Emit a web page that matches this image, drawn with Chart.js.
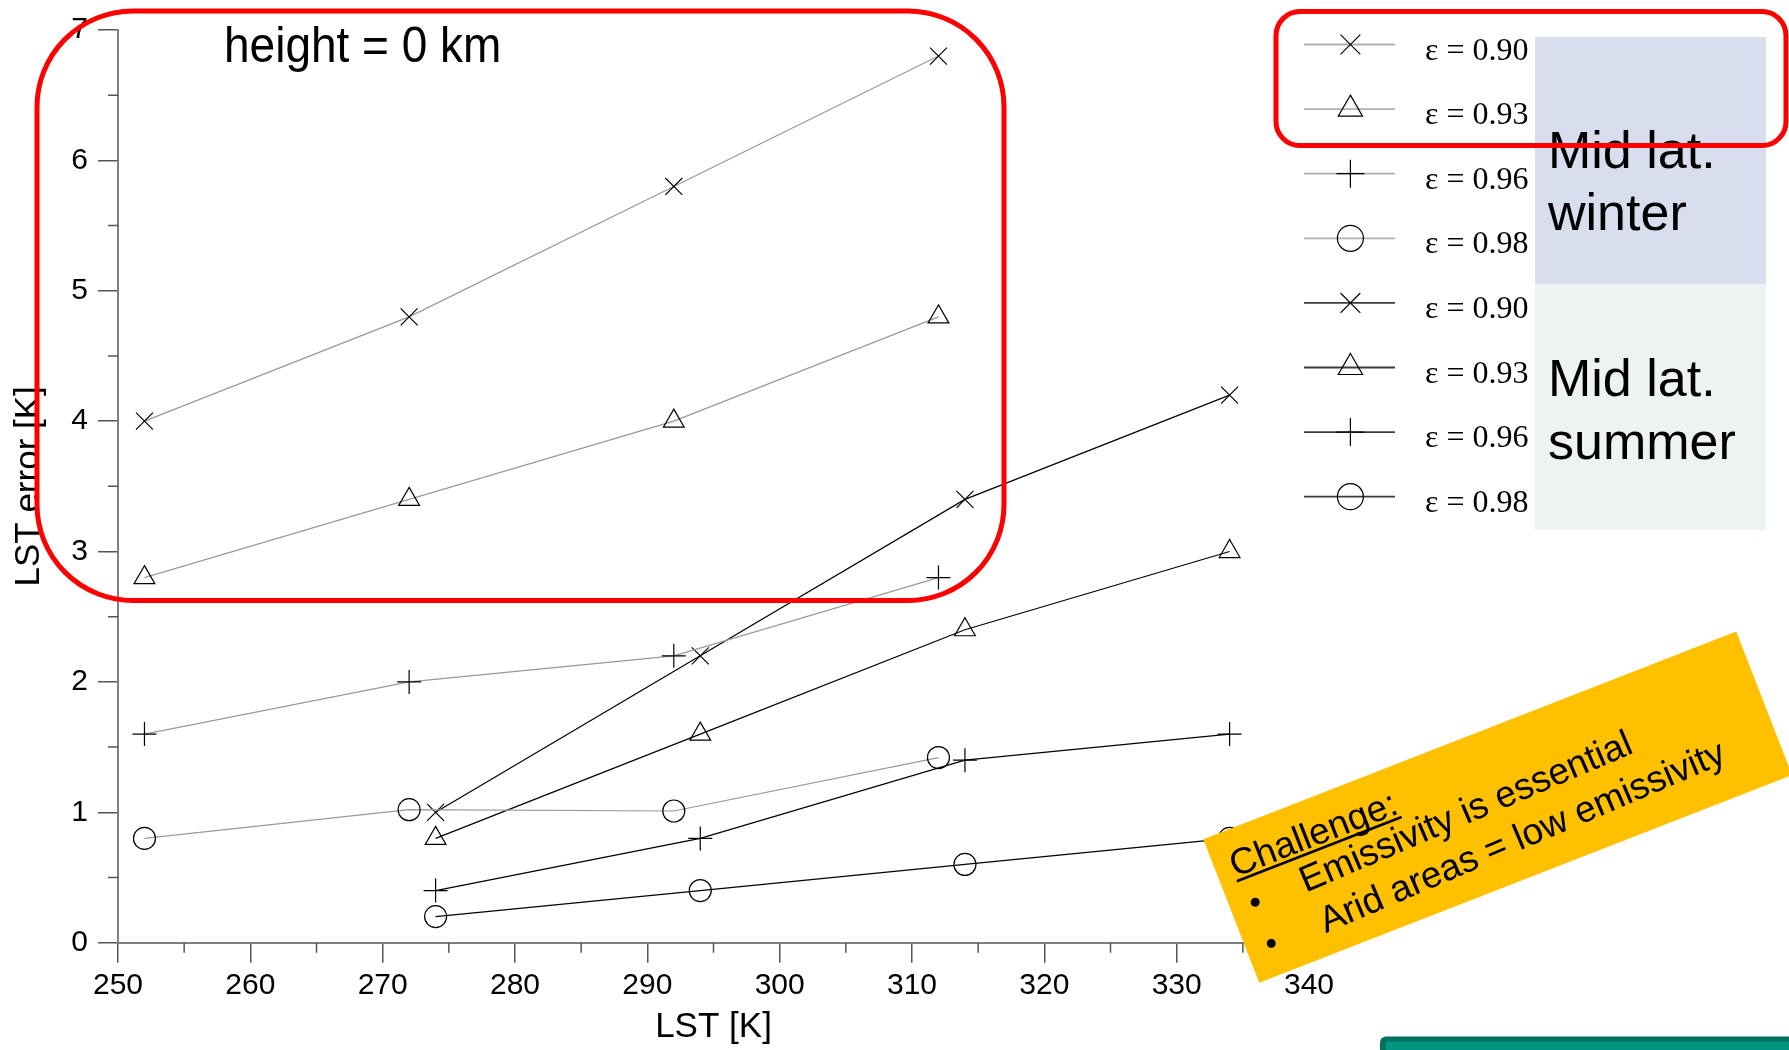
<!DOCTYPE html>
<html>
<head>
<meta charset="utf-8">
<script src="https://cdn.jsdelivr.net/npm/chart.js@4.4.1/dist/chart.umd.min.js"></script>
<style>
    html, body { margin: 0; padding: 0; background: #ffffff; }
    #wrap { width: 1789px; height: 1050px; position: relative; }
</style>
</head>
<body>
<div id="wrap"><canvas id="lstChart" width="1789" height="1050"></canvas></div>
<script>
// LST error vs LST, height = 0 km
var winterLST = [252, 272, 292, 312];
var summerLST = [274, 294, 314, 334];

var winterErr090 = [4.0, 4.8, 5.8, 6.8];
var winterErr093 = [2.8, 3.4, 4.0, 4.8];
var winterErr096 = [1.6, 2.0, 2.2, 2.8];
var winterErr098 = [0.8, 1.02, 1.01, 1.42];

var summerErr090 = [1.0, 2.2, 3.4, 4.2];
var summerErr093 = [0.8, 1.6, 2.4, 3.0];
var summerErr096 = [0.4, 0.8, 1.4, 1.6];
var summerErr098 = [0.2, 0.4, 0.6, 0.8];

var emissivityLabels = ['ε = 0.90', 'ε = 0.93', 'ε = 0.96', 'ε = 0.98'];
var xMin = 250, xMax = 340;
var yMin = 0, yMax = 7;

var SANS = '"Liberation Sans", Arial, sans-serif';
var SERIF = '"Liberation Serif", "Times New Roman", serif';

var markerStyles = ['crossRot', 'triangle', 'cross', 'circle'];
var markerRadius = [12, 12, 12, 11];
var legendRadius = [14, 14, 14, 13];

function makeSet(i, xs, ys, color, legendColor) {
    return {
        label: emissivityLabels[i],
        data: xs.map(function (x, k) { return { x: x, y: ys[k] }; }),
        borderColor: color,
        borderWidth: 1.2,
        pointStyle: markerStyles[i],
        pointRadius: markerRadius[i],
        pointHoverRadius: markerRadius[i],
        pointBorderColor: '#000000',
        pointBackgroundColor: 'rgba(0,0,0,0)',
        pointBorderWidth: 1.2,
        legendRadius: legendRadius[i],
        legendColor: legendColor,
        tension: 0,
        fill: false,
        clip: false
    };
}

var winterColor = '#999999';
var summerColor = '#000000';

function roundRect(ctx, x, y, w, h, r) {
    ctx.beginPath();
    ctx.moveTo(x + r, y);
    ctx.arcTo(x + w, y, x + w, y + h, r);
    ctx.arcTo(x + w, y + h, x, y + h, r);
    ctx.arcTo(x, y + h, x, y, r);
    ctx.arcTo(x, y, x + w, y, r);
    ctx.closePath();
}

var overlay = {
    id: 'overlay',
    afterDraw: function (chart) {
        var ctx = chart.ctx;
        var xs = chart.scales.x, ys = chart.scales.y;

        // minor ticks (shorter)
        ctx.save();
        ctx.strokeStyle = '#555555';
        ctx.lineWidth = 1.5;
        ctx.beginPath();
        xs.ticks.forEach(function (t) {
            if (t.value % 10 !== 0) {
                var px = xs.getPixelForValue(t.value);
                ctx.moveTo(px, xs.top);
                ctx.lineTo(px, xs.top + 10);
            }
        });
        ys.ticks.forEach(function (t) {
            if (t.value % 1 !== 0) {
                var py = ys.getPixelForValue(t.value);
                ctx.moveTo(ys.right - 10, py);
                ctx.lineTo(ys.right, py);
            }
        });
        ctx.stroke();
        ctx.restore();

        // plot title
        ctx.save();
        ctx.fillStyle = '#000000';
        ctx.font = '50px ' + SANS;
        ctx.textBaseline = 'alphabetic';
        ctx.translate(224, 61.7);
        ctx.scale(0.92, 1);
        ctx.fillText('height = 0 km', 0, 0);
        ctx.restore();

        // legend backgrounds
        ctx.save();
        ctx.fillStyle = '#d9deef';
        ctx.fillRect(1535, 37, 231, 247);
        ctx.fillStyle = '#edf2f2';
        ctx.fillRect(1535, 284, 231, 246);
        ctx.fillStyle = '#000000';
        ctx.font = '52px ' + SANS;
        ctx.fillText('Mid lat.', 1548, 167.7);
        ctx.fillText('winter', 1548, 229.7);
        ctx.fillText('Mid lat.', 1548, 395.7);
        ctx.fillText('summer', 1548, 458.8);
        ctx.restore();

        // legend entries from the datasets
        ctx.save();
        chart.data.datasets.forEach(function (ds, i) {
            var ry = 44.5 + 64.6 * i;
            ctx.strokeStyle = ds.legendColor;
            ctx.lineWidth = 1.8;
            ctx.beginPath();
            ctx.moveTo(1304, ry);
            ctx.lineTo(1395, ry);
            ctx.stroke();
            ctx.strokeStyle = '#000000';
            ctx.fillStyle = 'rgba(0,0,0,0)';
            ctx.lineWidth = 1.2;
            Chart.helpers.drawPoint(ctx, {
                pointStyle: ds.pointStyle, radius: ds.legendRadius, rotation: 0, borderWidth: 1.2
            }, 1350.4, ry);
            ctx.fillStyle = '#000000';
            ctx.font = '32px ' + SERIF;
            ctx.textBaseline = 'alphabetic';
            ctx.fillText(ds.label, 1425, ry + 15.1);
        });
        ctx.restore();

        // red highlight frames
        ctx.save();
        ctx.strokeStyle = '#ff0000';
        ctx.lineWidth = 5;
        roundRect(ctx, 37, 11, 967, 589.5, 96);
        ctx.stroke();
        roundRect(ctx, 1276, 11.6, 510, 134, 24);
        ctx.stroke();
        ctx.restore();

        // yellow note
        ctx.save();
        ctx.translate(1203.3, 839.3);
        ctx.rotate(-21.3 * Math.PI / 180);
        ctx.fillStyle = '#ffc000';
        ctx.fillRect(0, 0, 572, 154);
        ctx.fillStyle = '#000000';
        ctx.font = '37px ' + SANS;
        ctx.textBaseline = 'alphabetic';
        ctx.fillText('Challenge:', 16, 47);
        var cw = ctx.measureText('Challenge:').width;
        ctx.fillRect(16, 50, cw, 2.5);
        ctx.beginPath();
        ctx.arc(25.5, 77.5, 4.5, 0, Math.PI * 2);
        ctx.arc(25.5, 121.6, 4.5, 0, Math.PI * 2);
        ctx.fill();
        ctx.save();
        ctx.translate(76, 87);
        ctx.rotate(-1.8 * Math.PI / 180);
        ctx.fillText('Emissivity is essential', 0, 0);
        ctx.restore();
        ctx.save();
        ctx.translate(80, 132);
        ctx.rotate(-1.8 * Math.PI / 180);
        ctx.fillText('Arid areas = low emissivity', 0, 0);
        ctx.restore();
        ctx.restore();

        // teal box at bottom right
        ctx.save();
        ctx.fillStyle = '#00705f';
        roundRect(ctx, 1380, 1036.5, 440, 40, 6);
        ctx.fill();
        ctx.fillStyle = '#009682';
        ctx.fillRect(1386, 1041.5, 420, 30);
        ctx.restore();
    }
};

document.addEventListener('DOMContentLoaded', function () {
    Chart.defaults.font.family = SANS;
    Chart.defaults.color = '#000000';

    var ctxLst = document.getElementById('lstChart').getContext('2d');
    var lstChart = new Chart(ctxLst, {
        type: 'line',
        data: {
            datasets: [
                makeSet(0, winterLST, winterErr090, winterColor, '#b0b0b0'),
                makeSet(1, winterLST, winterErr093, winterColor, '#b0b0b0'),
                makeSet(2, winterLST, winterErr096, winterColor, '#b0b0b0'),
                makeSet(3, winterLST, winterErr098, winterColor, '#b0b0b0'),
                makeSet(0, summerLST, summerErr090, summerColor, '#3c3c3c'),
                makeSet(1, summerLST, summerErr093, summerColor, '#3c3c3c'),
                makeSet(2, summerLST, summerErr096, summerColor, '#3c3c3c'),
                makeSet(3, summerLST, summerErr098, summerColor, '#3c3c3c')
            ]
        },
        options: {
            responsive: false,
            animation: false,
            events: [],
            layout: { padding: { left: 0, top: 30, right: 480, bottom: 0 } },
            plugins: {
                legend: { display: false },
                tooltip: { enabled: false }
            },
            scales: {
                x: {
                    type: 'linear',
                    min: xMin,
                    max: xMax,
                    afterFit: function (s) { s.height = 107.3; },
                    border: { display: true, color: '#7f7f7f', width: 2 },
                    grid: {
                        drawOnChartArea: false,
                        drawTicks: true,
                        tickLength: 20,
                        lineWidth: 1.5,
                        tickColor: function (c) {
                            return c.tick && c.tick.value % 10 === 0 ? '#555555' : 'rgba(0,0,0,0)';
                        }
                    },
                    ticks: {
                        stepSize: 5,
                        autoSkip: false,
                        maxRotation: 0,
                        padding: 5,
                        color: '#000000',
                        font: { size: 30 },
                        callback: function (v) { return v % 10 === 0 ? String(v) : ''; }
                    },
                    title: {
                        display: true,
                        text: 'LST [K]',
                        color: '#000000',
                        font: { size: 35 },
                        padding: { top: 0, bottom: 2 }
                    }
                },
                y: {
                    type: 'linear',
                    min: yMin,
                    max: yMax,
                    afterFit: function (s) { s.width = 118; },
                    border: { display: true, color: '#7f7f7f', width: 2 },
                    grid: {
                        drawOnChartArea: false,
                        drawTicks: true,
                        tickLength: 20,
                        lineWidth: 1.5,
                        tickColor: function (c) {
                            return c.tick && c.tick.value % 1 === 0 ? '#555555' : 'rgba(0,0,0,0)';
                        }
                    },
                    ticks: {
                        stepSize: 0.5,
                        autoSkip: false,
                        padding: 10,
                        color: '#000000',
                        font: { size: 30 },
                        callback: function (v) { return v % 1 === 0 ? String(v) : ''; }
                    },
                    title: {
                        display: true,
                        text: 'LST error [K]',
                        color: '#000000',
                        font: { size: 35 },
                        padding: { top: 8, bottom: 0 }
                    }
                }
            }
        },
        plugins: [overlay]
    });
});
</script>
</body>
</html>
